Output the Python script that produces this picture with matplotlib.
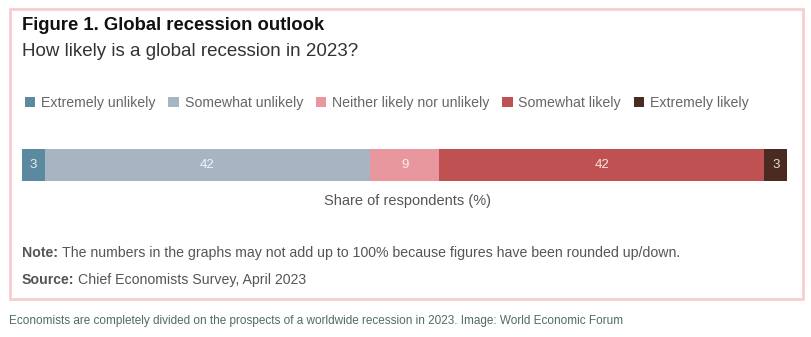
import matplotlib
matplotlib.use("Agg")
import matplotlib.pyplot as plt
from matplotlib.patches import Rectangle, Patch

# ---------- DATA ----------
categories = ["Extremely unlikely", "Somewhat unlikely", "Neither likely nor unlikely",
              "Somewhat likely", "Extremely likely"]
shares = [3, 42, 9, 42, 3]
colors = ["#5b8aa0", "#a7b5c3", "#e8979e", "#c05153", "#4b2a22"]

plt.rcParams["font.family"] = ["Liberation Sans", "DejaVu Sans"]

W, H = 811, 337
fig = plt.figure(figsize=(W / 100, H / 100), dpi=100)
fig.patch.set_facecolor("white")


def fx(px):
    return px / W


def fy(py):
    return 1 - py / H


# pink frame
fig.patches.append(Rectangle((fx(10), fy(299)), fx(793), 290 / H, transform=fig.transFigure,
                             facecolor="none", edgecolor="#f8cdd0", linewidth=2))

# ---------- BAR ----------
ax = fig.add_axes([fx(22), fy(181), fx(773), 32 / H])
left = 0
for cat, val, col in zip(categories, shares, colors):
    ax.barh(0, val, left=left, height=1, color=col, label=cat)
    ax.text(left + val / 2, 0, str(val), ha="center", va="center",
            color="white", fontsize=9.5, alpha=0.85)
    left += val
ax.set_xlim(0, 100)
ax.set_ylim(-0.5, 0.5)
ax.axis("off")

# ---------- TEXTS ----------
fig.text(fx(22), fy(25), "Figure 1. Global recession outlook", fontsize=13.3,
         fontweight="bold", color="#111111", va="center")
fig.text(fx(22), fy(51), "How likely is a global recession in 2023?", fontsize=13.5,
         color="#333333", va="center")

handles = [Patch(facecolor=c, edgecolor="none") for c in colors]
fig.legend(handles, categories, loc="center left", bbox_to_anchor=(fx(12), fy(103)),
           ncol=5, frameon=False, fontsize=10.2, handlelength=0.75, handleheight=0.75,
           handletextpad=0.4, columnspacing=0.9, labelcolor="#666666")

fig.text(fx(408), fy(201), "Share of respondents (%)", fontsize=10.5, color="#555555",
         ha="center", va="center")

renderer = fig.canvas.get_renderer()


def bold_lead(y, lead, rest, size=10.2):
    t = fig.text(fx(22), fy(y), lead, fontsize=size, fontweight="bold",
                 color="#555555", va="center")
    bb = t.get_window_extent(renderer)
    fig.text((bb.x1 + 4) / W, fy(y), rest, fontsize=size, color="#555555", va="center")


bold_lead(253, "Note:", "The numbers in the graphs may not add up to 100% because figures have been rounded up/down.")
bold_lead(280, "Source:", "Chief Economists Survey, April 2023")

fig.text(fx(9), fy(321), "Economists are completely divided on the prospects of a worldwide recession in 2023. Image: World Economic Forum",
         fontsize=8.5, color="#4f6d5c", va="center")

fig.savefig("out.png", dpi=100)
